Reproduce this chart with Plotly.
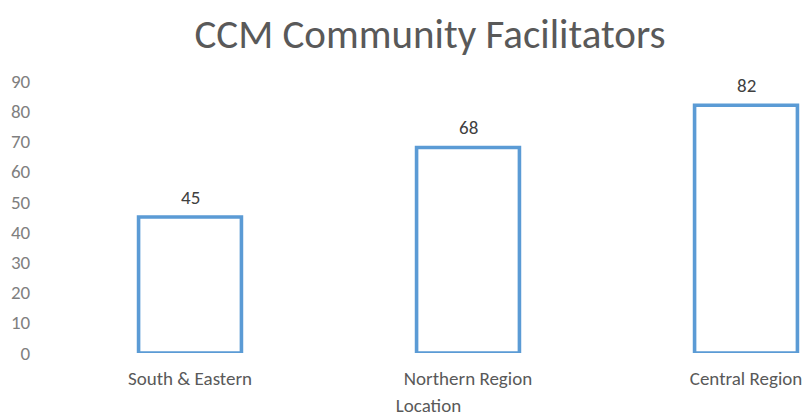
import plotly.graph_objects as go

categories = ["South & Eastern", "Northern Region", "Central Region"]
values = [45, 68, 82]
y_ticks = [0, 10, 20, 30, 40, 50, 60, 70, 80, 90]

FONT = "Carlito, Calibri, 'Liberation Sans Narrow', 'Open Sans', sans-serif"

fig = go.Figure()
fig.add_trace(go.Bar(
    x=categories,
    y=values,
    width=0.37,
    marker=dict(color="white", line=dict(color="#5B9BD5", width=3.6)),
    hoverinfo="x+y",
))

for c, v in zip(categories, values):
    fig.add_annotation(x=c, y=v, text=str(v), showarrow=False, yanchor="middle",
                       yshift=20, font=dict(family=FONT, size=19, color="#404040"))

fig.update_layout(
    width=806, height=417,
    margin=dict(l=51, r=0, t=81, b=64),
    paper_bgcolor="white", plot_bgcolor="white",
    showlegend=False,
    title=dict(text="CCM Community Facilitators", x=430/806, xanchor="center",
               y=1 - 34/417, yanchor="middle",
               font=dict(family=FONT, size=41, color="#595959")),
    xaxis=dict(range=[-0.5, -0.5 + 755/278], showgrid=False, showline=False, zeroline=False,
               tickfont=dict(family=FONT, size=19, color="#595959"),
               ticks="outside", ticklen=8, tickcolor="rgba(0,0,0,0)",
               title=dict(text="Location", font=dict(family=FONT, size=19, color="#595959"), standoff=13)),
    yaxis=dict(range=[0, 90], tickvals=y_ticks, showgrid=False, showline=False, zeroline=False,
               tickfont=dict(family=FONT, size=19, color="#7f7f7f"),
               ticks="outside", ticklen=16, tickcolor="rgba(0,0,0,0)"),
)

fig.write_html("out.html", config={"displayModeBar": False},
               post_script="document.body.style.margin='0';document.body.style.overflow='hidden';")
